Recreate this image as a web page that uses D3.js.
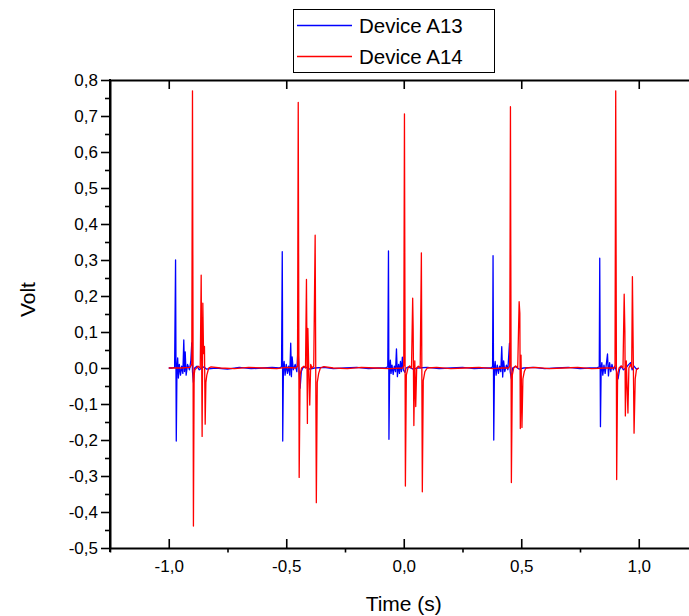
<!DOCTYPE html>
<html>
<head>
<meta charset="utf-8">
<script src="https://cdn.jsdelivr.net/npm/d3@7"></script>
<style>
  html, body { margin: 0; padding: 0; background: #fff; }
  svg { display: block; font-family: "Liberation Sans", Arial, sans-serif; }
</style>
</head>
<body>
<svg id="chart" width="689" height="616"></svg>
<script>
// Voltage traces of two devices, time in seconds
const seriesNames = ["Device A13", "Device A14"];
const seriesColors = ["#0000ff", "#ff0000"];

const timeA13 = [
  -1.000, -0.985, -0.975, -0.971, -0.968, -0.965, -0.962, -0.959, -0.955, -0.950,
  -0.945, -0.940, -0.936, -0.933, -0.930, -0.926, -0.920, -0.912, -0.906, -0.902,
  -0.899, -0.895, -0.890, -0.880, -0.870, -0.860, -0.850, -0.840, -0.800, -0.750,
  -0.700, -0.650, -0.600, -0.560, -0.530,
  -0.520, -0.517, -0.516, -0.515, -0.512, -0.509, -0.505, -0.500, -0.495, -0.490,
  -0.485, -0.481, -0.478, -0.475, -0.470, -0.462, -0.455, -0.450, -0.446, -0.441,
  -0.436, -0.430, -0.420, -0.400, -0.380, -0.340, -0.300, -0.250, -0.200, -0.150,
  -0.110, -0.080,
  -0.068, -0.065, -0.064, -0.063, -0.060, -0.057, -0.054, -0.050, -0.045, -0.040,
  -0.035, -0.031, -0.027, -0.022, -0.018, -0.014, -0.010, -0.006, -0.002, 0.005,
  0.010, 0.020, 0.040, 0.060, 0.100, 0.150, 0.200, 0.250, 0.300, 0.340, 0.370,
  0.378, 0.380, 0.383, 0.386, 0.389, 0.393, 0.398, 0.403, 0.408, 0.413,
  0.417, 0.421, 0.425, 0.430, 0.437, 0.443, 0.450, 0.453, 0.458, 0.463,
  0.475, 0.490, 0.510, 0.550, 0.600, 0.650, 0.700, 0.750, 0.790, 0.820,
  0.832, 0.834, 0.837, 0.840, 0.843, 0.847, 0.852, 0.857, 0.862, 0.867,
  0.871, 0.876, 0.881, 0.886, 0.892, 0.898, 0.905, 0.912, 0.918, 0.925,
  0.935, 0.945, 0.955, 0.965, 0.972, 0.980, 0.990, 1.000
];
const voltA13 = [
  0.000, 0.000, 0.002, 0.300, -0.203, 0.000, 0.028, -0.028, 0.010, -0.020,
  0.005, -0.015, 0.078, -0.010, 0.045, -0.020, 0.010, -0.005, 0.020, 0.070,
  -0.010, -0.040, 0.000, 0.005, -0.005, 0.000, 0.003, -0.003, 0.000, -0.003,
  0.002, -0.002, 0.000, 0.002, 0.000,
  0.003, 0.323, 0.160, -0.203, 0.000, 0.018, -0.020, 0.010, -0.015, 0.005,
  -0.020, 0.069, -0.024, 0.031, -0.005, 0.010, -0.010, 0.056, 0.000, -0.056,
  -0.010, 0.000, 0.003, -0.003, 0.000, 0.002, -0.002, 0.000, 0.002, -0.002,
  0.000, 0.000,
  0.003, 0.325, 0.138, -0.198, 0.000, 0.022, -0.015, 0.008, -0.018, 0.005,
  -0.010, 0.053, -0.024, 0.010, -0.015, 0.018, -0.010, 0.030, -0.005, -0.012,
  0.000, 0.003, -0.003, 0.000, 0.002, -0.002, 0.000, 0.002, -0.002, 0.000, 0.000,
  0.003, 0.312, -0.200, 0.000, 0.018, -0.020, 0.008, -0.015, 0.005, -0.010,
  0.059, -0.025, 0.020, -0.010, 0.008, -0.005, 0.069, -0.010, -0.030, 0.000,
  0.004, -0.003, 0.000, 0.002, -0.002, 0.000, 0.002, -0.002, 0.000, 0.000,
  0.003, 0.305, -0.163, 0.000, 0.015, -0.020, 0.008, -0.015, 0.010, 0.039,
  -0.022, 0.015, -0.010, 0.010, -0.005, 0.005, -0.008, -0.030, -0.005, 0.005,
  -0.005, 0.000, 0.008, 0.015, -0.005, 0.005, -0.003, 0.000
];

const timeA14 = [
  -1.000, -0.950, -0.910, -0.902, -0.899, -0.895, -0.892, -0.889, -0.882, -0.875,
  -0.866, -0.862, -0.858, -0.855, -0.852, -0.848, -0.845, -0.842, -0.838, -0.830,
  -0.820, -0.780, -0.720, -0.660, -0.600, -0.540, -0.500, -0.460,
  -0.452, -0.449, -0.445, -0.441, -0.435, -0.425, -0.418, -0.414, -0.410, -0.408,
  -0.404, -0.400, -0.396, -0.390, -0.383, -0.377, -0.372, -0.368, -0.362, -0.355,
  -0.340, -0.300, -0.240, -0.180, -0.120, -0.060, -0.005,
  0.000, 0.003, 0.007, 0.011, 0.018, 0.025, 0.033, 0.038, 0.040, 0.043,
  0.047, 0.051, 0.055, 0.062, 0.070, 0.075, 0.079, 0.083, 0.090, 0.100,
  0.140, 0.200, 0.260, 0.320, 0.380, 0.420, 0.445,
  0.451, 0.454, 0.458, 0.462, 0.468, 0.476, 0.485, 0.491, 0.494, 0.496,
  0.499, 0.503, 0.507, 0.513, 0.520, 0.560, 0.620, 0.680, 0.740, 0.800,
  0.860, 0.895,
  0.899, 0.902, 0.906, 0.910, 0.916, 0.925, 0.933, 0.938, 0.941, 0.943,
  0.947, 0.954, 0.958, 0.965, 0.970, 0.973, 0.978, 0.980, 0.985, 0.990, 1.000
];
const voltA14 = [
  0.000, 0.000, 0.002, 0.010, 0.770, -0.439, -0.020, -0.005, 0.000, 0.005,
  0.000, 0.258, -0.190, 0.180, 0.040, 0.060, -0.156, -0.040, -0.020, 0.000,
  0.003, 0.000, -0.002, 0.002, 0.000, -0.002, 0.002, 0.000,
  0.005, 0.738, -0.304, -0.020, 0.000, 0.005, 0.000, 0.246, -0.154, 0.110,
  -0.010, -0.103, 0.010, 0.000, 0.005, 0.369, -0.374, -0.040, -0.015, 0.000,
  0.004, 0.000, -0.002, 0.002, 0.000, -0.002, 0.000,
  0.006, 0.706, -0.328, -0.020, 0.000, 0.006, 0.000, 0.194, 0.110, -0.160,
  0.020, -0.107, 0.000, 0.005, 0.000, 0.320, -0.344, -0.035, -0.010, 0.000,
  0.002, -0.002, 0.000, 0.002, -0.002, 0.000, 0.000,
  0.005, 0.726, -0.318, -0.020, 0.000, 0.006, 0.000, 0.184, 0.152, -0.168,
  0.036, -0.165, -0.030, -0.010, 0.000, 0.002, -0.002, 0.000, 0.002, -0.002,
  0.000, 0.000,
  0.006, 0.770, -0.310, -0.020, 0.000, 0.006, 0.000, 0.205, 0.100, -0.133,
  0.020, -0.125, 0.000, 0.010, 0.000, 0.254, -0.050, -0.181, -0.030, -0.005, 0.000
];

// Axis ticks
const xMajorTicks = [-1.0, -0.5, 0.0, 0.5, 1.0];
const xMinorTicks = [-1.25, -0.75, -0.25, 0.25, 0.75, 1.25];
const yMajorTicks = [-0.5, -0.4, -0.3, -0.2, -0.1, 0.0, 0.1, 0.2, 0.3, 0.4, 0.5, 0.6, 0.7, 0.8];
const yMinorTicks = [-0.45, -0.35, -0.25, -0.15, -0.05, 0.05, 0.15, 0.25, 0.35, 0.45, 0.55, 0.65, 0.75];
const xTitle = "Time (s)";
const yTitle = "Volt";

const svg = d3.select("#chart");
const margin = { left: 110, top: 80, bottom: 548 };
const plotRight = 697.5;

const x = d3.scaleLinear().domain([-1.25, 1.25]).range([margin.left, plotRight]);
const y = d3.scaleLinear().domain([-0.5, 0.8]).range([margin.bottom, margin.top]);

const commaFmt = v => {
  const s = Math.abs(v) < 1e-9 ? "0.0" : v.toFixed(1);
  return s.replace(".", ",");
};

// Series lines (red drawn on top)
const line = d3.line().x(d => x(d[0])).y(d => y(d[1]));
const seriesData = [
  d3.zip(timeA13, voltA13),
  d3.zip(timeA14, voltA14)
];
seriesData.forEach((pts, i) => {
  svg.append("path")
    .datum(pts)
    .attr("fill", "none")
    .attr("stroke", seriesColors[i])
    .attr("stroke-width", 1.3)
    .attr("stroke-linejoin", "round")
    .attr("d", line);
});

const axisStroke = 2;

function styleAxis(g) {
  g.select(".domain").attr("stroke", "#000").attr("stroke-width", axisStroke);
  g.selectAll(".tick line").attr("stroke", "#000").attr("stroke-width", 1.6);
  g.selectAll("text").attr("fill", "#000");
}

// Bottom axis: major ticks inward, minor ticks outward
svg.append("g")
  .attr("transform", `translate(0,${margin.bottom})`)
  .call(d3.axisBottom(x).tickValues(xMinorTicks).tickSize(4.5).tickFormat(""))
  .call(g => { styleAxis(g); g.select(".domain").remove(); });
svg.append("g")
  .attr("transform", `translate(0,${margin.bottom})`)
  .call(d3.axisBottom(x).tickValues(xMajorTicks).tickSizeInner(-9).tickSizeOuter(0)
        .tickPadding(12).tickFormat(commaFmt))
  .call(styleAxis)
  .call(g => g.selectAll("text").attr("font-size", 17).attr("font-family", "Liberation Sans, Arial, sans-serif"));

// Top axis: line plus inward major ticks
svg.append("g")
  .attr("transform", `translate(0,${margin.top})`)
  .call(d3.axisTop(x).tickValues(xMajorTicks).tickSizeInner(-9).tickSizeOuter(0).tickFormat(""))
  .call(styleAxis);

// Left axis: major and minor ticks outward
svg.append("g")
  .attr("transform", `translate(${margin.left},0)`)
  .call(d3.axisLeft(y).tickValues(yMinorTicks).tickSize(5).tickFormat(""))
  .call(g => { styleAxis(g); g.select(".domain").remove(); });
svg.append("g")
  .attr("transform", `translate(${margin.left},0)`)
  .call(d3.axisLeft(y).tickValues(yMajorTicks).tickSizeInner(9).tickSizeOuter(0)
        .tickPadding(3).tickFormat(commaFmt))
  .call(styleAxis)
  .call(g => g.selectAll("text").attr("font-size", 17).attr("font-family", "Liberation Sans, Arial, sans-serif"));

// Extend left axis line slightly below the bottom axis
svg.append("line")
  .attr("x1", margin.left).attr("x2", margin.left)
  .attr("y1", margin.top - 1).attr("y2", margin.bottom + 4)
  .attr("stroke", "#000").attr("stroke-width", axisStroke);

// Axis titles
svg.append("text")
  .attr("x", x(0)).attr("y", 611)
  .attr("text-anchor", "middle")
  .attr("font-size", 21)
  .text(xTitle);
svg.append("text")
  .attr("transform", `translate(35,${y(0.19)}) rotate(-90)`)
  .attr("text-anchor", "middle")
  .attr("font-size", 21)
  .text(yTitle);

// Legend
const legend = svg.append("g");
legend.append("rect")
  .attr("x", 293.5).attr("y", 9.5).attr("width", 201).attr("height", 63)
  .attr("fill", "#fff").attr("stroke", "#000").attr("stroke-width", 1);
seriesNames.forEach((name, i) => {
  const ly = 25.5 + i * 31;
  legend.append("line")
    .attr("x1", 297).attr("x2", 352).attr("y1", ly).attr("y2", ly)
    .attr("stroke", seriesColors[i]).attr("stroke-width", 1.3);
  legend.append("text")
    .attr("x", 359).attr("y", ly + 7.5)
    .attr("font-size", 20.5)
    .text(name);
});
</script>
</body>
</html>
